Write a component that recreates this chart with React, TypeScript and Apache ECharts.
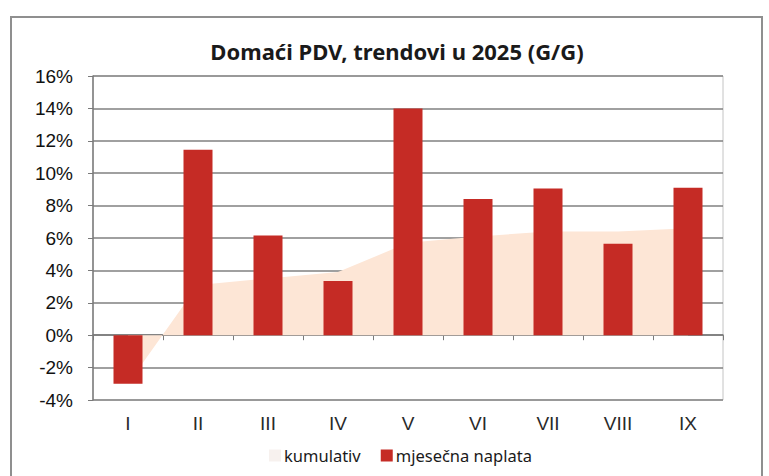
import React, { useEffect, useRef } from "react";
import * as echarts from "echarts";

const categories = ["I", "II", "III", "IV", "V", "VI", "VII", "VIII", "IX"];
const monthly = [-3.0, 11.45, 6.15, 3.35, 14.0, 8.4, 9.05, 5.65, 9.1];
const cumulative = [-3.0, 3.1, 3.5, 3.9, 5.7, 6.1, 6.4, 6.4, 6.6];
const yTicks = { min: -4, max: 16, interval: 2 };

export default function App() {
  const ref = useRef<HTMLDivElement>(null);
  useEffect(() => {
    if (!ref.current) return;
    const chart = echarts.init(ref.current, null, { renderer: "svg" });
    chart.setOption({
      animation: false,
      backgroundColor: "#ffffff",
      title: {
        text: "Domaći PDV, trendovi u 2025 (G/G)",
        left: 392,
        textAlign: "center",
        top: 35,
        textStyle: { fontFamily: "Noto Sans", fontWeight: "bold", fontSize: 22, color: "#1a1a1a" },
      },
      graphic: [
        {
          type: "rect",
          shape: { x: 11, y: 17, width: 751, height: 480 },
          style: { fill: "none", stroke: "#8f8f8f", lineWidth: 2 },
          silent: true,
        },
      ],
      legend: {
        top: 442,
        left: 264,
        itemWidth: 12,
        itemHeight: 12,
        itemGap: 20,
        textStyle: { fontFamily: "Noto Sans", fontSize: 16.5, color: "#1a1a1a", padding: [0, 0, 0, -2] },
        data: [
          { name: "kumulativ", icon: "rect", itemStyle: { color: "#f7f1ee" } },
          { name: "mjesečna naplata", icon: "rect" },
        ],
      },
      grid: {
        left: 93,
        right: 46,
        top: 76,
        bottom: 76,
        show: true,
        borderColor: "#c4c4c4",
        borderWidth: 1,
      },
      xAxis: [
        {
          type: "category",
          data: categories,
          position: "bottom",
          axisLine: { show: false, onZero: false },
          axisTick: { show: false },
          axisLabel: { fontFamily: "Liberation Sans", fontSize: 19, color: "#2a2a2a", margin: 14 },
        },
        {
          type: "category",
          data: categories,
          position: "top",
          axisLine: { show: true, onZero: true, lineStyle: { color: "#7a7a7a", width: 1.5 } },
          axisTick: { show: true, inside: true, length: 5, lineStyle: { color: "#7a7a7a" } },
          axisLabel: { show: false },
        },
      ],
      yAxis: {
        type: "value",
        min: yTicks.min,
        max: yTicks.max,
        interval: yTicks.interval,
        axisLine: { show: true, lineStyle: { color: "#7a7a7a", width: 1.5 } },
        axisTick: { show: true, length: 5, lineStyle: { color: "#7a7a7a" } },
        axisLabel: {
          formatter: "{value}%",
          fontFamily: "Liberation Sans",
          fontSize: 19,
          color: "#111",
          margin: 20,
        },
        splitLine: { show: true, lineStyle: { color: "#808080", width: 1.5 } },
      },
      series: [
        {
          name: "kumulativ",
          type: "line",
          xAxisIndex: 0,
          data: cumulative,
          symbol: "none",
          lineStyle: { width: 0 },
          itemStyle: { color: "#fde6d6" },
          areaStyle: { color: "#fde6d6", opacity: 1 },
          z: 1,
        },
        {
          name: "mjesečna naplata",
          type: "bar",
          xAxisIndex: 0,
          data: monthly,
          barWidth: 29,
          itemStyle: { color: "#c52b25" },
          z: 3,
        },
      ],
    });
    return () => chart.dispose();
  }, []);
  return <div ref={ref} style={{ position: "fixed", left: 0, top: 0, width: 769, height: 476 }} />;
}
